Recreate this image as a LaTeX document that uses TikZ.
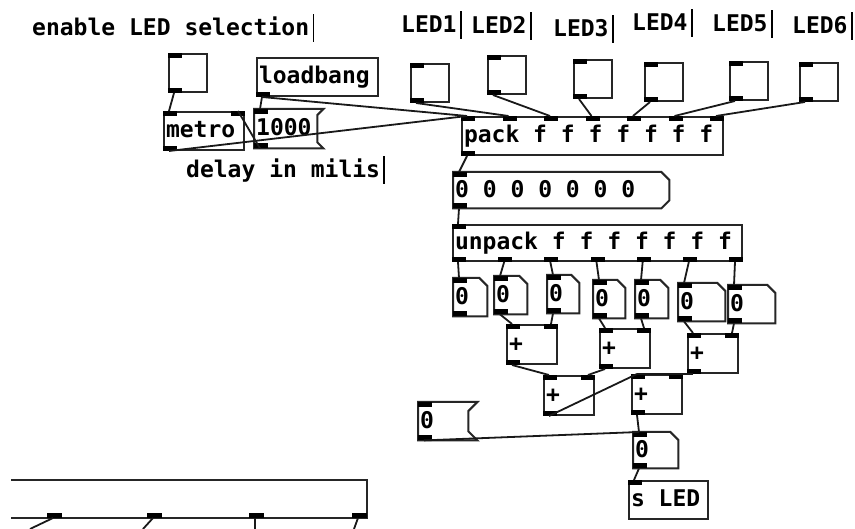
\documentclass[tikz,border=0pt]{standalone}
\usepackage{fontspec}
\setmonofont{DejaVu Sans Mono}
\usepackage{tikz}
\usetikzlibrary{calc}

\begin{document}
\begin{tikzpicture}[x=1pt,y=-1pt,
    every node/.style={font=\fontsize{23}{23}\selectfont\ttfamily\bfseries},
    box/.style 2 args={anchor=north west, inner xsep=0pt, inner ysep=0pt,
      text width=#1pt, minimum height=#2pt,
      text height=17pt, text depth=3pt,
      execute at begin node={\spaceskip=0pt\xspaceskip=0pt\hspace*{2pt}}},
    obj/.style 2 args={box={#1}{#2}, draw=black!85, line width=2pt},
    tgl/.style={anchor=north west, draw=black!85, line width=2pt,
      minimum width=38pt, minimum height=38pt, inner sep=0pt},
    outline/.style={draw=black!85, line width=2pt},
    port/.style={fill=black},
    wire/.style={line width=1.8pt, black!90},
    note/.style={anchor=base west, inner sep=0pt},
    bar/.style={line width=1.6pt}]
  \useasboundingbox (0,0) rectangle (855,529);
  \fill[white] (0,0) rectangle (855,529);

  % comments
  \node[note] (c0) at (32,36) {enable LED selection};
  \node[note] (c1) at (186,178) {delay in milis};
  \node[note] (l1) at (401,33) {LED1};
  \node[note] (l2) at (471,34) {LED2};
  \node[note] (l3) at (553,37) {LED3};
  \node[note] (l4) at (632,31) {LED4};
  \node[note] (l5) at (712,32) {LED5};
  \node[note] (l6) at (792,34) {LED6};
  \foreach \n in {c0,c1,l1,l2,l3,l4,l5,l6}
    \draw[bar] ([xshift=4pt,yshift=-6pt]\n.base east) -- ++(0,-28);

  % toggles
  \node[tgl] (en) at (168,53) {};
  \node[tgl] (t1) at (410,63) {};
  \node[tgl] (t2) at (487,55) {};
  \node[tgl] (t3) at (573,59) {};
  \node[tgl] (t4) at (644,62) {};
  \node[tgl] (t5) at (729,61) {};
  \node[tgl] (t6) at (799,62) {};

  % objects, messages, atoms
  \node[obj={121}{38}] (loadbang) at (256,57) {loadbang};
  \node[obj={80}{38}] (metro) at (163,111) {metro};
  \node[box={63}{39}] (m1000) at (254,109) {1000};
  \node[obj={261}{38}] (pack) at (461,116) {pack f f f f f f f};
  \node[box={216}{36}] (list) at (453,172) {0 0 0 0 0 0 0};
  \node[obj={289}{36}] (unpack) at (452,224) {unpack f f f f f f f};
  \foreach \n/\x/\y/\w in {f1/453/278/34, f2/494/276/33, f3/547/275/32, f4/593/280/32,
      f5/635/280/33, f6/678/283/47, f7/728/285/47}
    \node[box={\w}{38}] (\n) at (\x,\y) {0};
  \foreach \n/\x/\y in {pA/506/324, pB/599/328, pC/687/333, pD/543/375, pE/631/374}
    \node[obj={50}{39}] (\n) at (\x,\y) {+};
  \node[box={50}{38}] (m0) at (418,402) {0};
  \node[box={45}{36}] (fout) at (633,432) {0};
  \node[obj={79}{38}] (send) at (628,480) {s LED};

  % outlines of atoms and messages
  \foreach \n in {f1,f2,f3,f4,f5,f6,f7,fout}
    \draw[outline] (\n.north west) -- ([xshift=-8pt]\n.north east) -- ([yshift=-8pt]\n.north east)
      -- (\n.south east) -- (\n.south west) -- cycle;
  \foreach \n/\c in {m1000/6, m0/9}
    \draw[outline] (\n.north west) -- ([xshift=\c pt]\n.north east) -- ([yshift=-\c pt]\n.north east)
      -- ([yshift=\c pt]\n.south east) -- ([xshift=\c pt]\n.south east) -- (\n.south west) -- cycle;
  \draw[outline] (list.north west) -- ([xshift=-8pt]list.north east) -- ([yshift=-8pt]list.north east)
    -- ([yshift=8pt]list.south east) -- ([xshift=-8pt]list.south east) -- (list.south west) -- cycle;

  % inlets and outlets
  \foreach \n in {en,t1,t2,t3,t4,t5,t6,metro,m1000,list,unpack,f1,f2,f3,f4,f5,f6,f7,pA,pB,pC,pD,pE,m0,fout,send}
    \fill[port] (\n.north west) rectangle ++(14,5);
  \foreach \n in {metro,pA,pB,pC,pD,pE}
    \fill[port] (\n.north east) rectangle ++(-14,5);
  \foreach \n in {en,t1,t2,t3,t4,t5,t6,loadbang,metro,m1000,pack,list,f1,f2,f3,f4,f5,f6,f7,pA,pB,pC,pD,pE,m0,fout}
    \fill[port] (\n.south west) rectangle ++(14,-5);
  \foreach \i in {0,...,6} {
    \coordinate (pin\i) at ($(pack.north west)!\i/6!([xshift=-14pt]pack.north east)$);
    \fill[port] (pin\i) rectangle ++(14,5);
  }
  \foreach \i [count=\j] in {0,...,6} {
    \coordinate (uout\j) at ($(unpack.south west)!\i/6!([xshift=-14pt]unpack.south east)$);
    \fill[port] (uout\j) rectangle ++(14,-5);
  }

  % connections
  \foreach \a/\b in {en/metro, loadbang/m1000, pack/list, list/unpack, f2/pA, f4/pB, f6/pC,
      pA/pD, pC/pE, pD/pE, pE/fout, m0/fout, fout/send}
    \draw[wire] ([xshift=6pt]\a.south west) -- ([xshift=6pt]\b.north west);
  \foreach \a/\b in {m1000/metro, f3/pA, f5/pB, f7/pC, pB/pD}
    \draw[wire] ([xshift=6pt]\a.south west) -- ([xshift=-7pt]\b.north east);
  \foreach \a/\i in {loadbang/0, metro/0, t1/1, t2/2, t3/3, t4/4, t5/5, t6/6}
    \draw[wire] ([xshift=6pt]\a.south west) -- ([xshift=6pt]pin\i);
  \foreach \i in {1,...,7}
    \draw[wire] ([xshift=6pt]uout\i) -- ([xshift=6pt]f\i.north west);

  % box cut off at the bottom left
  \draw[outline] (11,480) -- (367,480) -- (367,518) -- (11,518);
  \foreach \x/\e in {47/30, 147/143, 249/255, 352/354} {
    \fill[port] (\x,518) rectangle ++(15,-5);
    \coordinate (bo) at (\x+6,518);
    \coordinate (be) at (\e,529);
    \draw[wire] (bo) -- (be);
  }
\end{tikzpicture}
\end{document}
